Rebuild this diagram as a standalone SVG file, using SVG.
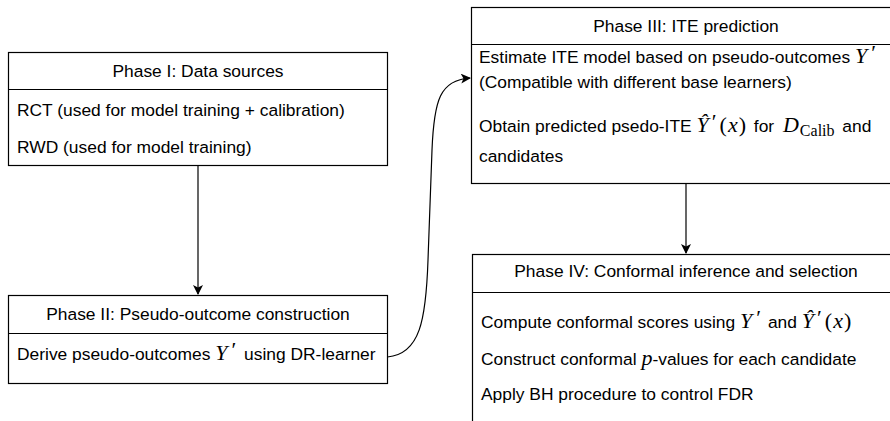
<svg xmlns="http://www.w3.org/2000/svg" width="890" height="421" viewBox="0 0 890 421">
<style>
.box{fill:#fff;stroke:#000;stroke-width:1.2}
.t{font-family:"Liberation Sans",Arial,sans-serif;font-size:17.4px;fill:#000}
.c{text-anchor:middle}
.m{font-family:"Liberation Serif","Times New Roman",serif;font-style:italic;font-size:22px}
.r{font-family:"Liberation Serif","Times New Roman",serif;font-size:22px}
.s{font-family:"Liberation Serif","Times New Roman",serif;font-size:16px}
.edge{fill:none;stroke:#000;stroke-width:1.2}
</style>
<defs>
<marker id="ah" viewBox="0 0 10 10" refX="9" refY="5" markerWidth="10" markerHeight="10" markerUnits="userSpaceOnUse" orient="auto">
<path d="M0,0 L10,5 L0,10 L2.5,5 Z" fill="#000"/>
</marker>
</defs>
<rect width="890" height="421" fill="#fff"/>
<g id="phase1">
<rect class="box" x="8.5" y="52.5" width="379" height="113"/>
<line class="box" x1="8.5" y1="89.5" x2="387.5" y2="89.5"/>
<text class="t c" x="198" y="77">Phase I: Data sources</text>
<text class="t" x="17" y="116">RCT (used for model training + calibration)</text>
<text class="t" x="17" y="153">RWD (used for model training)</text>
</g>
<g id="phase2">
<rect class="box" x="8.5" y="295.5" width="379" height="88"/>
<line class="box" x1="8.5" y1="333.5" x2="387.5" y2="333.5"/>
<text class="t c" x="198" y="320">Phase II: Pseudo-outcome construction</text>
<text class="t" x="17" y="360">Derive pseudo-outcomes <tspan class="m">Y</tspan><tspan class="r" dx="4" dy="-3">′</tspan><tspan dx="3" dy="3"> using DR-learner</tspan></text>
</g>
<g id="phase3">
<rect class="box" x="471.5" y="7.5" width="430" height="176"/>
<line class="box" x1="471.5" y1="44.5" x2="901.5" y2="44.5"/>
<text class="t c" x="686" y="32">Phase III: ITE prediction</text>
<text class="t" x="479" y="63">Estimate ITE model based on pseudo-outcomes <tspan class="m">Y</tspan><tspan class="r" dx="4" dy="-3">′</tspan></text>
<text class="t" x="479" y="88">(Compatible with different base learners)</text>
<text class="t" x="479" y="132">Obtain predicted psedo-ITE <tspan class="m">Ŷ</tspan><tspan class="r" dx="3" dy="-3">′</tspan><tspan class="r" dx="3" dy="3">(</tspan><tspan class="m" dx="1">x</tspan><tspan class="r" dx="1">)</tspan><tspan dx="3"> for  </tspan><tspan class="m" dx="4">D</tspan><tspan class="s" dx="1" dy="4">Calib</tspan><tspan dx="3" dy="-4"> and</tspan></text>
<text class="t" x="479" y="162">candidates</text>
</g>
<g id="phase4">
<rect class="box" x="472.5" y="254.5" width="430" height="180"/>
<line class="box" x1="472.5" y1="292.5" x2="902.5" y2="292.5"/>
<text class="t c" x="686" y="277">Phase IV: Conformal inference and selection</text>
<text class="t" x="481" y="328">Compute conformal scores using <tspan class="m">Y</tspan><tspan class="r" dx="4" dy="-3">′</tspan><tspan dx="2" dy="3"> and </tspan><tspan class="m">Ŷ</tspan><tspan class="r" dx="3" dy="-3">′</tspan><tspan class="r" dx="3" dy="3">(</tspan><tspan class="m" dx="1">x</tspan><tspan class="r" dx="1">)</tspan></text>
<text class="t" x="481" y="365">Construct conformal <tspan class="m">p</tspan>-values for each candidate</text>
<text class="t" x="481" y="400">Apply BH procedure to control FDR</text>
</g>
<g id="connectors">
<line class="edge" x1="198" y1="165.5" x2="198" y2="294" marker-end="url(#ah)"/>
<line class="edge" x1="686" y1="183.5" x2="686" y2="253" marker-end="url(#ah)"/>
<path class="edge" d="M387.5,357 C420,354 426,320 428,260 L432,150 C434,100 440,80 470,78" marker-end="url(#ah)"/>
</g>
</svg>
